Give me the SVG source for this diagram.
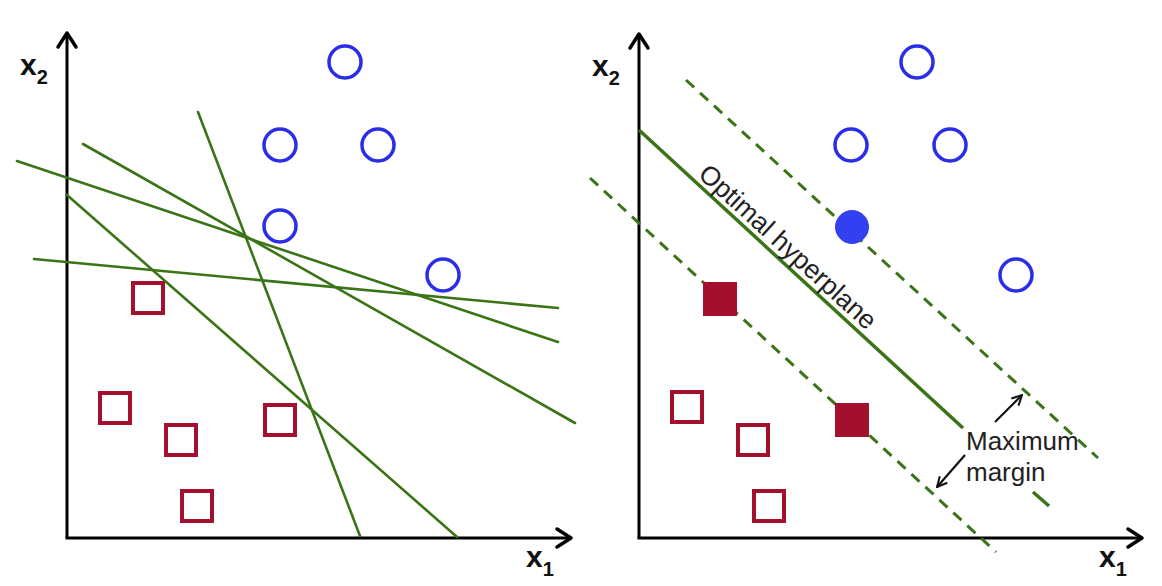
<svg xmlns="http://www.w3.org/2000/svg" width="1162" height="586" viewBox="0 0 1162 586">
<defs>
<style>
.axis{stroke:#000;stroke-width:3;fill:none}
.head{stroke:#000;stroke-width:3.5;fill:none;stroke-linecap:round;stroke-linejoin:round}
.sep{stroke:#3a7417;stroke-width:2.6;fill:none;stroke-linecap:round}
.hyp{stroke:#3a7417;stroke-width:3.5;fill:none}
.mar{stroke:#3a7417;stroke-width:3;fill:none;stroke-dasharray:11 8}
.circ{fill:none;stroke:#2b2ee6;stroke-width:3.5}
.circf{fill:#3340f2;stroke:#3340f2;stroke-width:1}
.sq{fill:none;stroke:#a3102e;stroke-width:4}
.sqf{fill:#a3102e;stroke:#a3102e;stroke-width:1}
.lbl{font-family:"Liberation Sans",Arial,sans-serif;font-weight:bold;fill:#111}
.txt{font-family:"Liberation Sans",Arial,sans-serif;fill:#222}
.arr{stroke:#111;stroke-width:2.2;fill:none}
</style>
<marker id="ah" viewBox="0 0 12 12" refX="11" refY="6" markerWidth="12" markerHeight="12" markerUnits="userSpaceOnUse" orient="auto">
<path d="M1,1 L11,6 L1,11" fill="none" stroke="#111" stroke-width="2"/>
</marker>
</defs>
<rect width="1162" height="586" fill="#fff"/>

<g id="left-axes">
<line class="axis" x1="67" y1="538" x2="67" y2="34"/>
<line class="axis" x1="65.5" y1="538" x2="570" y2="538"/>
<path class="head" d="M58,47 L67,33 L76,47"/>
<path class="head" d="M557,529 L571,538 L557,547"/>
<text class="lbl" x="20" y="75" font-size="30">x<tspan font-size="20" dy="9">2</tspan></text>
<text class="lbl" x="526" y="567" font-size="30">x<tspan font-size="20" dy="9">1</tspan></text>
</g>

<g id="left-separators">
<line class="sep" x1="17" y1="161" x2="558" y2="342"/>
<line class="sep" x1="83" y1="144" x2="575" y2="423"/>
<line class="sep" x1="198" y1="112" x2="360" y2="536"/>
<line class="sep" x1="67" y1="195" x2="457" y2="537"/>
<line class="sep" x1="34" y1="259" x2="558" y2="308"/>
</g>

<g id="left-circles">
<circle class="circ" cx="345" cy="62" r="16"/>
<circle class="circ" cx="280" cy="145" r="16"/>
<circle class="circ" cx="378" cy="145" r="16"/>
<circle class="circ" cx="280" cy="226" r="16"/>
<circle class="circ" cx="443" cy="275" r="16"/>
</g>

<g id="left-squares">
<rect class="sq" x="133" y="283" width="30" height="30"/>
<rect class="sq" x="100" y="393" width="30" height="30"/>
<rect class="sq" x="166" y="425" width="30" height="30"/>
<rect class="sq" x="265" y="405" width="30" height="30"/>
<rect class="sq" x="182" y="491" width="30" height="30"/>
</g>

<g id="right-axes">
<line class="axis" x1="639" y1="538" x2="639" y2="35"/>
<line class="axis" x1="637.5" y1="538" x2="1141" y2="538"/>
<path class="head" d="M630,48 L639,34 L648,48"/>
<path class="head" d="M1128,529 L1142,538 L1128,547"/>
<text class="lbl" x="592" y="76" font-size="30">x<tspan font-size="20" dy="9">2</tspan></text>
<text class="lbl" x="1099" y="567" font-size="30">x<tspan font-size="20" dy="9">1</tspan></text>
</g>

<g id="connectors">
<line class="hyp" x1="639" y1="130" x2="963" y2="428"/>
<line class="hyp" x1="1033" y1="492" x2="1049" y2="506"/>
<line class="mar" x1="686" y1="80" x2="1098" y2="458"/>
<line class="mar" x1="590" y1="178" x2="996" y2="552"/>
<line class="arr" x1="995" y1="422" x2="1022" y2="395" marker-end="url(#ah)"/>
<line class="arr" x1="965" y1="455" x2="937" y2="487" marker-end="url(#ah)"/>
</g>

<g id="hyperplane-label">
<text class="txt" font-size="26.5" transform="translate(697,176) rotate(42.4)">Optimal hyperplane</text>
</g>

<g id="margin-label">
<text class="txt" font-size="26" x="966" y="450">Maximum</text>
<text class="txt" font-size="26" x="966" y="481">margin</text>
</g>

<g id="right-circles">
<circle class="circ" cx="917" cy="62" r="16"/>
<circle class="circ" cx="851" cy="145" r="16"/>
<circle class="circ" cx="950" cy="145" r="16"/>
<circle class="circ" cx="1016" cy="275" r="16"/>
<circle class="circf" cx="852" cy="227" r="16.5"/>
</g>

<g id="right-squares">
<rect class="sqf" x="703.5" y="282.5" width="33" height="33"/>
<rect class="sqf" x="835.5" y="403.5" width="33" height="33"/>
<rect class="sq" x="672" y="392" width="30" height="30"/>
<rect class="sq" x="738" y="425" width="30" height="30"/>
<rect class="sq" x="754" y="491" width="30" height="30"/>
</g>
</svg>
